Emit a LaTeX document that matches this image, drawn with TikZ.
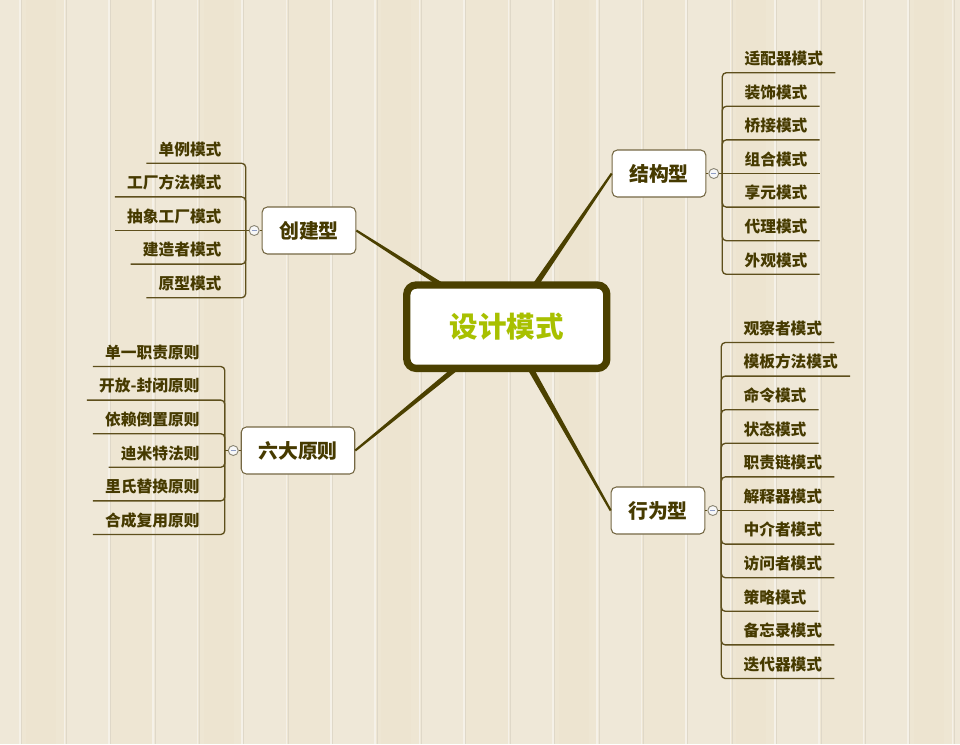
\documentclass[tikz,border=0pt]{standalone}
\usepackage{fontspec}
\setmainfont{Noto Sans CJK SC}
\usetikzlibrary{positioning,calc}

\definecolor{woodbase}{HTML}{EEE6D3}
\definecolor{woodlight}{HTML}{F1EBDD}
\definecolor{woodyellow}{HTML}{EADBBC}
\definecolor{woodseam}{HTML}{F5F1E8}
\definecolor{woodshade}{HTML}{DFD8C8}
\definecolor{olive}{HTML}{4B4000}
\definecolor{inktext}{HTML}{463A00}
\definecolor{twigline}{HTML}{5E4F1C}
\definecolor{boxline}{HTML}{756844}
\definecolor{titlegreen}{HTML}{A8C000}
\definecolor{knobline}{HTML}{8C8775}
\definecolor{knobminus}{HTML}{8E9CC4}

\tikzset{
  core/.style={draw=olive, line width=5.5pt, fill=white, rounded corners=7pt,
    minimum width=150pt, minimum height=62.5pt, text=titlegreen,
    font=\fontsize{21.4pt}{24pt}\selectfont\bfseries},
  branch/.style={draw=boxline, line width=0.8pt, fill=white, rounded corners=3.8pt,
    minimum height=35.25pt, inner xsep=12.75pt, text=inktext,
    font=\fontsize{14.9pt}{17pt}\selectfont\bfseries},
  knob/.style={circle, draw=knobline, line width=0.7pt, fill=white!94!gray,
    minimum size=7.5pt, inner sep=0pt,
    path picture={\draw[knobminus, line width=0.8pt]
      ([xshift=1.8pt]path picture bounding box.west) -- ([xshift=-1.8pt]path picture bounding box.east);}},
  leaf/.style={inner xsep=9pt, inner ysep=0pt, minimum height=18pt,
    text height=0.8em, text depth=0.2em, text=inktext,
    font=\fontsize{11.8pt}{13pt}\selectfont\bfseries},
  twig/.style={draw=twigline, line width=1pt, rounded corners=3pt},
  trunk/.style={fill=olive},
}

\begin{document}
\begin{tikzpicture}[x=0.75pt,y=-0.75pt]

% Wood background:
\useasboundingbox (0,0) rectangle (960,744);
\fill[woodbase] (0,0) rectangle (960,744);
\foreach \n in {0,2,...,22}
  \fill[woodlight, opacity=0.5] ({-24.4+44.4*\n},0) rectangle +(44.4,744);
\foreach \n in {1,5,9,13,17,21}
  \fill[woodyellow, opacity=0.12] ({-24.4+44.4*\n+6},0) rectangle +(30,744);
\foreach \n in {0,...,21}
{
  \draw[woodshade, line width=0.4pt] ({21.6+44.4*\n},0) -- +(0,744);
  \draw[woodseam, line width=1.1pt] ({20+44.4*\n},0) -- +(0,744);
}

% Main branches:
\coordinate (mc) at (506.8,326.7);
\node[branch] (jiegou) at (659,173.5) {结构型};
\node[branch] (chuangjian) at (309,230.5) {创建型};
\node[branch] (yuanze) at (298,450.5) {六大原则};
\node[branch] (xingwei) at (658,510.5) {行为型};

% Collapse knobs and junctions:
\node[knob, right=1.5pt of jiegou] (k1) {};
\node[knob, left=1.5pt of chuangjian] (k2) {};
\node[knob, left=1.5pt of yuanze] (k3) {};
\node[knob, right=1.5pt of xingwei] (k4) {};
\draw[twig] (jiegou.east) -- (k1.west);
\draw[twig] (chuangjian.west) -- (k2.east);
\draw[twig] (yuanze.west) -- (k3.east);
\draw[twig] (xingwei.east) -- (k4.west);
\draw[twig] (k1.east) -- ++(2.25pt,0) coordinate (j1);
\draw[twig] (k2.west) -- ++(-2.25pt,0) coordinate (j2);
\draw[twig] (k3.west) -- ++(-2.25pt,0) coordinate (j3);
\draw[twig] (k4.east) -- ++(2.25pt,0) coordinate (j4);

% Leaves:
\foreach \t [count=\i] in {适配器模式,装饰模式,桥接模式,组合模式,享元模式,代理模式,外观模式}
  \node[leaf, anchor=south west] (jg\i) at ($(j1)+(10,{(\i-4)*33.6})$) {\t};
\foreach \t [count=\i] in {单例模式,工厂方法模式,抽象工厂模式,建造者模式,原型模式}
  \node[leaf, anchor=south east] (cj\i) at ($(j2)+(-12,{(\i-3)*33.6})$) {\t};
\foreach \t [count=\i] in {单一职责原则,开放-封闭原则,依赖倒置原则,迪米特法则,里氏替换原则,合成复用原则}
  \node[leaf, anchor=south east] (yz\i) at ($(j3)+(-13,{(\i-3.5)*33.6})$) {\t};
\foreach \t [count=\i] in {观察者模式,模板方法模式,命令模式,状态模式,职责链模式,解释器模式,中介者模式,访问者模式,策略模式,备忘录模式,迭代器模式}
  \node[leaf, anchor=south west] (xw\i) at ($(j4)+(10,{(\i-6)*33.6})$) {\t};

% Leaf connectors:
\foreach \i in {1,2,3,5,6,7}
  \draw[twig] (j1) |- (jg\i.south east);
\draw[twig] (j1) -- (jg4.south east);
\foreach \i in {1,2,4,5}
  \draw[twig] (j2) |- (cj\i.south west);
\draw[twig] (j2) -- (cj3.south west);
\foreach \i in {1,...,6}
  \draw[twig] (j3) |- (yz\i.south west);
\foreach \i in {1,...,5,7,8,9,10,11}
  \draw[twig] (j4) |- (xw\i.south east);
\draw[twig] (j4) -- (xw6.south east);

% Tapered trunks from the centre:
\foreach \b/\a in {jiegou/west,chuangjian/east,yuanze/east,xingwei/west}
  \fill[trunk] ($(mc)!2.6pt!90:(\b.\a)$) -- ($(\b.\a)!0.8pt!-90:(mc)$)
    -- ($(\b.\a)!0.8pt!90:(mc)$) -- ($(mc)!2.6pt!-90:(\b.\a)$) -- cycle;

% Central topic:
\node[core] (main) at (mc) {设计模式};

\end{tikzpicture}
\end{document}
